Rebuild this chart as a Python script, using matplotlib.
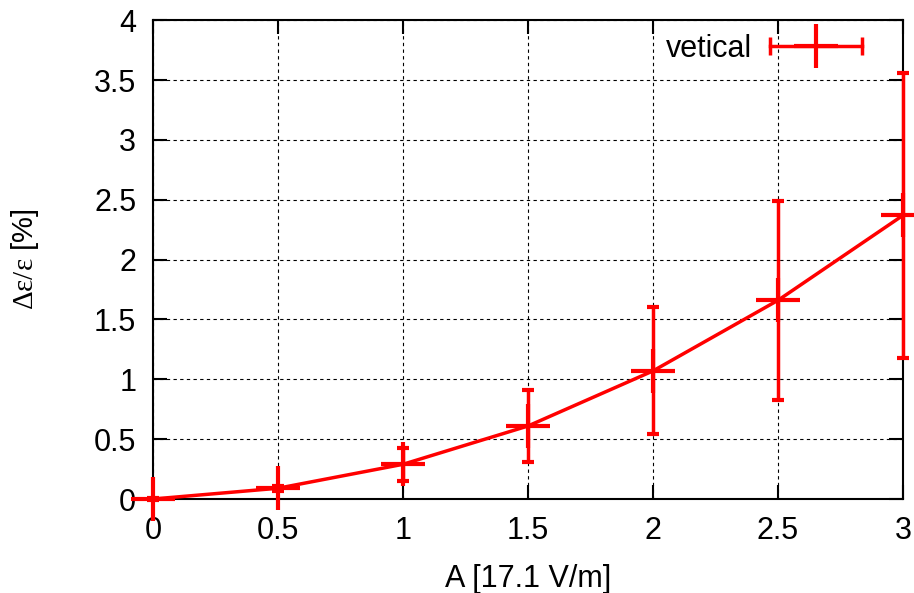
import matplotlib
matplotlib.use("Agg")
import matplotlib.pyplot as plt
from matplotlib.lines import Line2D
from matplotlib.legend_handler import HandlerLine2D

# dados
amplitude = [0, 0.5, 1, 1.5, 2, 2.5, 3]
deltaEps = [0.0, 0.09, 0.29, 0.61, 1.07, 1.66, 2.37]
erro = [0.01, 0.02, 0.14, 0.30, 0.53, 0.83, 1.19]

xticks = [0, 0.5, 1, 1.5, 2, 2.5, 3]
yticks = [0, 0.5, 1, 1.5, 2, 2.5, 3, 3.5, 4]

plt.rcParams['font.family'] = ['Liberation Sans', 'DejaVu Sans']
plt.rcParams['mathtext.fontset'] = 'custom'
plt.rcParams['mathtext.rm'] = 'Liberation Serif'
plt.rcParams['mathtext.default'] = 'rm'

fig = plt.figure(figsize=(9.14, 5.93), dpi=100)
ax = fig.add_axes([0.1674, 0.1585, 0.8206, 0.8075])

ax.plot(amplitude, deltaEps, color='red', lw=2.5, zorder=3)
ax.errorbar(amplitude, deltaEps, yerr=erro, fmt='+', color='red',
            markersize=32, markeredgewidth=3, elinewidth=2.5,
            capsize=4.5, capthick=2.5, clip_on=False, zorder=4)

# entrada da legenda estilo gnuplot (barra horizontal com "+")
hLinha = Line2D([], [], color='red', lw=2.5, marker='|', markersize=13, mew=2.5)
hMais = Line2D([], [], color='red', ls='none', marker='+', markersize=32, mew=3)
ax.legend([(hLinha, hMais)], ['vetical'], loc='upper right', frameon=False,
          markerfirst=False, fontsize=22, handlelength=3.6, handletextpad=0.3,
          borderpad=0, borderaxespad=0, bbox_to_anchor=(0.957, 0.972),
          handler_map={hLinha: HandlerLine2D(numpoints=2),
                       hMais: HandlerLine2D(numpoints=1)})

ax.set_xlim(0, 3)
ax.set_ylim(0, 4)
ax.set_xticks(xticks)
ax.set_xticklabels(['0', '0.5', '1', '1.5', '2', '2.5', '3'])
ax.set_yticks(yticks)
ax.set_yticklabels(['0', '0.5', '1', '1.5', '2', '2.5', '3', '3.5', '4'])
ax.tick_params(direction='in', length=10, width=1.5, labelsize=22,
               top=True, right=True, pad=12)
ax.grid(True, color='black', linestyle=(0, (3, 3)), linewidth=0.8)

for s in ax.spines.values():
    s.set_linewidth(1.5)

ax.set_xlabel("A [17.1 V/m]", fontsize=22, labelpad=13)
ax.set_ylabel(r"$\Delta\varepsilon/\varepsilon$ [%]", fontsize=21, labelpad=38)

fig.savefig("out.png", dpi=100)
